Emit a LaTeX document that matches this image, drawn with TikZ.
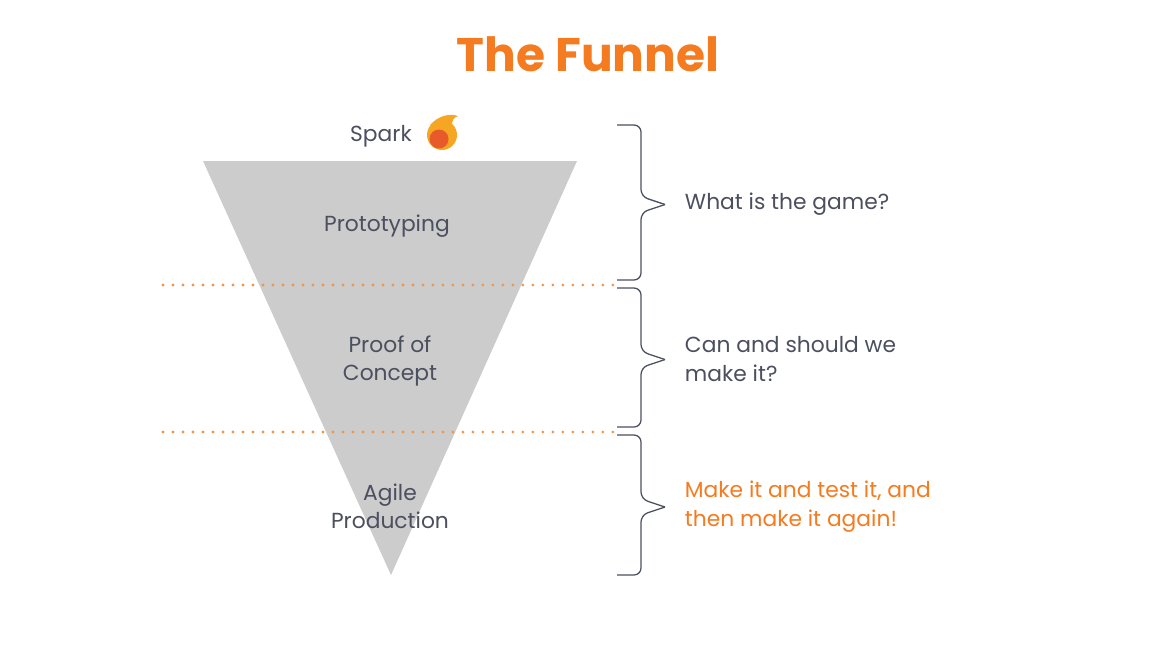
\documentclass[tikz,border=0pt]{standalone}
\usepackage{fontspec}
\setmainfont{Poppins}
\usetikzlibrary{calc}
\definecolor{funnelorange}{HTML}{F47B20}
\definecolor{funnelgray}{HTML}{CCCCCC}
\definecolor{textgray}{HTML}{4B4F5E}
\definecolor{dotorange}{HTML}{F0954A}
\definecolor{sparkyellow}{HTML}{F6A623}
\definecolor{sparkred}{HTML}{E85A2A}
\tikzset{
  title/.style={text=funnelorange, font=\bfseries\fontsize{33.5}{40}\selectfont},
  stage/.style={text=textgray, align=center, font=\fontsize{15.5}{20}\selectfont},
  answer/.style={anchor=west, align=left, font=\fontsize{15.5}{20.5}\selectfont},
  divider/.style={dotorange, line width=2.2pt, line cap=round, dash pattern=on 0pt off 7.11pt},
  bracket/.style={textgray, line width=0.9pt, rounded corners=5pt}
}
% bracket from top coordinate to bottom coordinate, tip to the right
\newcommand{\funnelbrace}[2]{%
  \coordinate (mid) at ($(#1)!0.5!(#2)$);
  \draw[bracket] (#1) -| ($(mid)+(24,-6)$) -- ($(mid)+(48,2)$);
  \draw[bracket] (#2) -| ($(mid)+(24,10)$) -- ($(mid)+(48,2)$);
}
\begin{document}
\begin{tikzpicture}[x=0.025cm,y=-0.025cm]
  \useasboundingbox (0,0) rectangle (1176,651);

  \node[title] (T) at (588,54) {The Funnel};

  % funnel
  \fill[funnelgray] (203,161) -- (577,161) -- (391,575) -- cycle;

  % spark icon
  \fill[sparkyellow] (442,135) circle (15);
  \fill[sparkyellow] (430,125) .. controls (438,116) and (449,113) .. (458,116)
    .. controls (450,119) and (451,126) .. (455,133) -- cycle;
  \fill[sparkred] (439,139) circle (9.5);

  \node[stage] (spark) at (381,136) {Spark};
  \node[stage] (proto) at (387,226) {Prototyping};
  \node[stage] (poc) at (390,361) {Proof of\\Concept};
  \node[stage] (agile) at (390,506) {Agile\\Production};

  % dividers
  \coordinate (d1l) at (163,285);
  \coordinate (d1r) at (614,285);
  \coordinate (d2l) at (163,432);
  \coordinate (d2r) at (614,432);
  \draw[divider] (d1l) -- (d1r);
  \draw[divider] (d2l) -- (d2r);

  % braces
  \coordinate (b1t) at (617,125);
  \coordinate (b1b) at (617,280);
  \coordinate (b2t) at (617,288);
  \coordinate (b2b) at (617,427);
  \coordinate (b3t) at (617,435);
  \coordinate (b3b) at (617,575);
  \funnelbrace{b1t}{b1b}
  \funnelbrace{b2t}{b2b}
  \funnelbrace{b3t}{b3b}

  \node[answer, text=textgray] (q1) at (680,204) {What is the game?};
  \node[answer, text=textgray] (q2) at (680,359) {Can and should we\\make it?};
  \node[answer, text=funnelorange] (q3) at (680,507) {Make it and test it, and\\then make it again!};
\end{tikzpicture}
\end{document}
